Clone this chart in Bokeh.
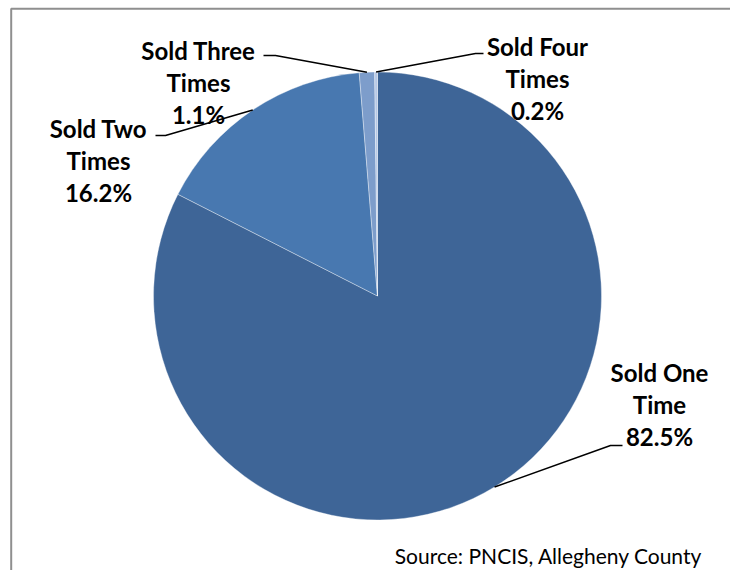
import math
from bokeh.plotting import figure
from bokeh.models import Range1d, ColumnDataSource
from bokeh.core.properties import value
from bokeh.embed import file_html
from bokeh.resources import INLINE

# ---- data ----
categories = ["Sold One Time", "Sold Two Times", "Sold Three Times", "Sold Four Times"]
shares = [82.5, 16.2, 1.1, 0.2]
pct_labels = ["82.5%", "16.2%", "1.1%", "0.2%"]
source_note = "Source: PNCIS, Allegheny County"

# ---- style / layout ----
colors = ["#3E6597", "#4878B0", "#7D9DCB", "#B6C8E6"]
W, H = 730, 570
def Y(py):  # convert picture pixel y to data y
    return H - py

cx, cy, R = 377, Y(295.5), 224
label_pos = [(659, 372), (98, 128), (198, 50), (537, 46)]   # centre x, first line y (px)
line_gap = 32
leader_bend = [[(610, 445), (622, 445)], [(165, 135), (155, 135)],
               [(275, 55), (263, 55)], [(475, 53), (483, 53)]]

p = figure(width=W, height=H, output_backend="svg", toolbar_location=None,
           x_range=Range1d(0, W), y_range=Range1d(0, H),
           min_border=0, background_fill_color="white", border_fill_color="white")
p.axis.visible = False
p.grid.visible = False
p.outline_line_color = None

# frame (only top and left edges visible)
p.line([10.7, 10.7, 760], [Y(600), Y(8.3), Y(8.3)], line_color="#8f8f8f", line_width=2)

total = sum(shares)
starts, ends, mids = [], [], []
cum = 0.0
for s in shares:
    a0 = math.pi / 2 - 2 * math.pi * cum / total
    cum += s
    a1 = math.pi / 2 - 2 * math.pi * cum / total
    starts.append(a1)
    ends.append(a0)
    mids.append((a0 + a1) / 2)

src = ColumnDataSource(dict(start=starts, end=ends, color=colors, cat=categories))
p.wedge(x=cx, y=cy, radius=R, start_angle="start", end_angle="end",
        direction="anticlock", fill_color="color", line_color="white",
        line_width=0.6, line_alpha=0.6, source=src)

# leader lines
xs, ys = [], []
for m, bend in zip(mids, leader_bend):
    px0 = cx + R * math.cos(m)
    py0 = cy + R * math.sin(m)
    xs.append([px0] + [b[0] for b in bend])
    ys.append([py0] + [Y(b[1]) for b in bend])
p.multi_line(xs, ys, line_color="black", line_width=1.5)

# labels
tx, ty, tt = [], [], []
for cat, pct, (lx, ly) in zip(categories, pct_labels, label_pos):
    words = cat.split(" ")
    lines = [" ".join(words[:2]), " ".join(words[2:]), pct]
    for i, t in enumerate(lines):
        tx.append(lx)
        ty.append(Y(ly + i * line_gap))
        tt.append(t)
p.text(x=tx, y=ty, text=tt, text_font=value("Lato"), text_font_style="bold",
       text_font_size="24px", text_align="center", text_baseline="middle",
       text_color="black")

p.text(x=[702], y=[Y(555)], text=[source_note], text_font=value("Lato"),
       text_font_size="21px", text_align="right", text_baseline="middle",
       text_color="black")

open("out.html", "w").write(file_html(p, INLINE))
